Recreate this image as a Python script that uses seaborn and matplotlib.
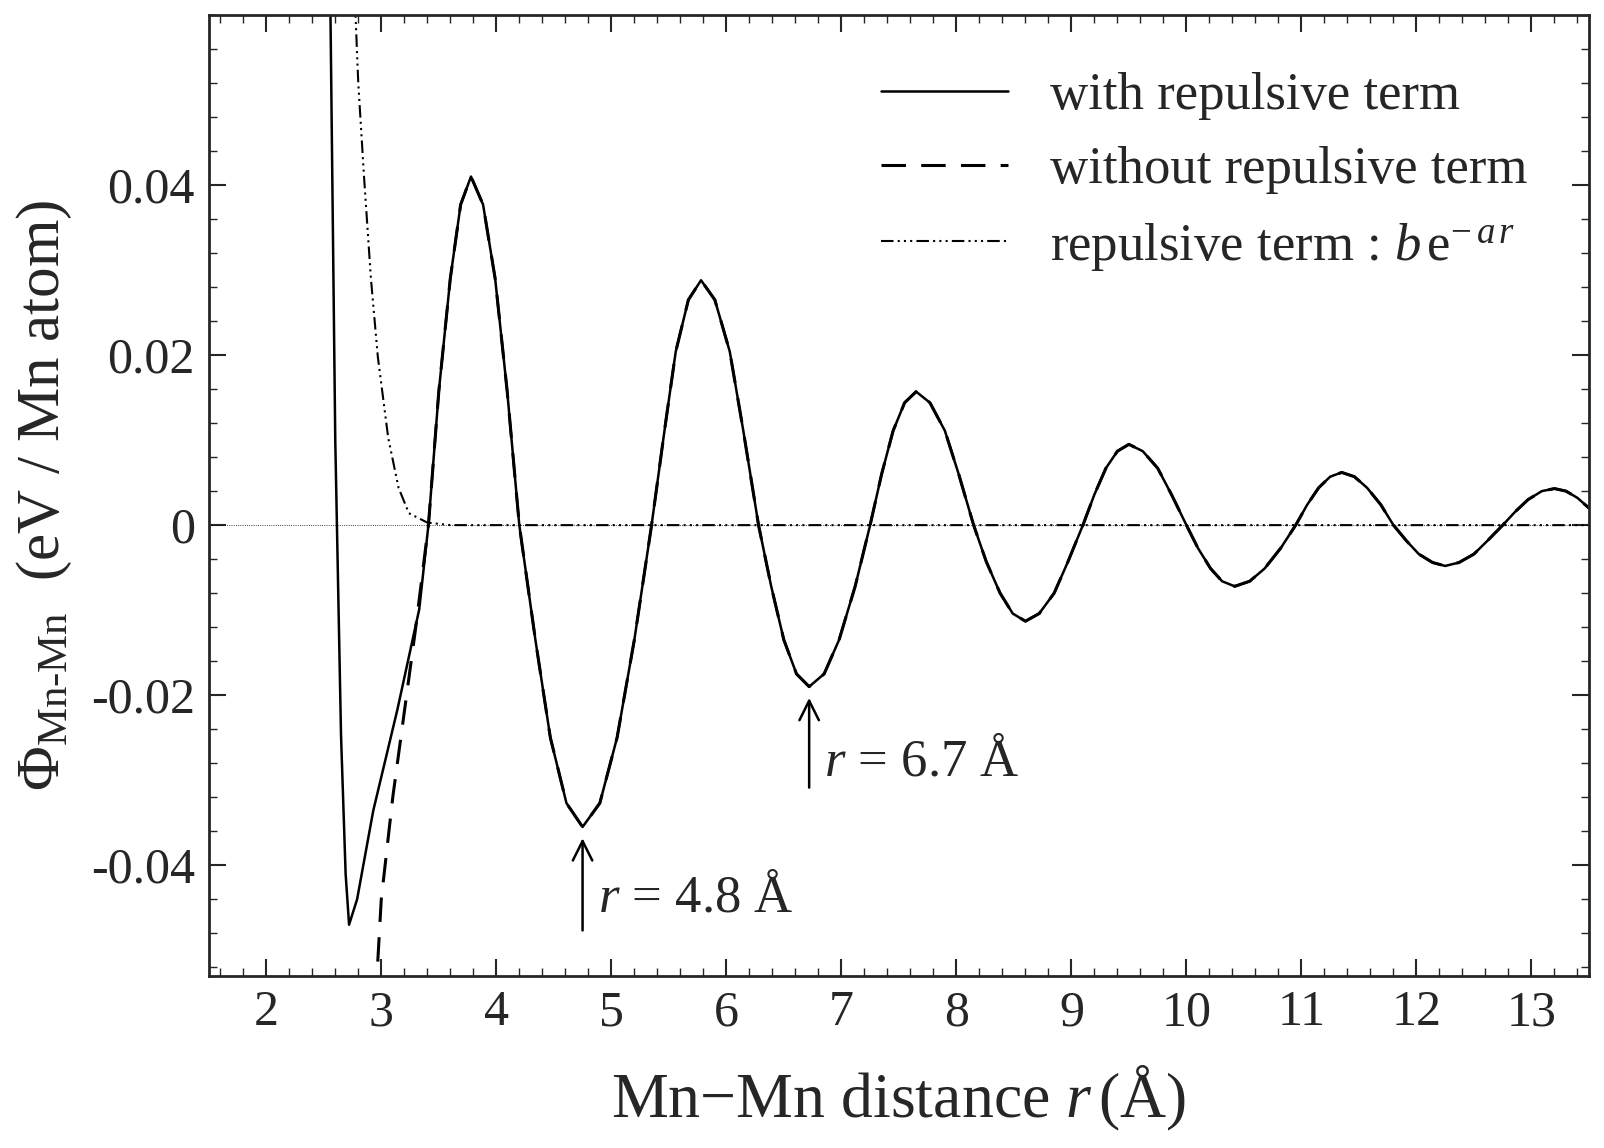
import numpy as np
import pandas as pd
import seaborn as sns
import matplotlib.pyplot as plt
from matplotlib.ticker import MultipleLocator

sns.set_style('ticks')
plt.rcParams['font.family'] = ['Liberation Serif', 'DejaVu Serif']
plt.rcParams['mathtext.fontset'] = 'custom'
plt.rcParams['mathtext.rm'] = 'Liberation Serif'
plt.rcParams['mathtext.it'] = 'Liberation Serif:italic'

# oscillating part shared by both curves (r >= 3.41)
r_osc = [3.41, 3.50, 3.60, 3.69, 3.78, 3.885, 3.99, 4.095, 4.2,
         4.34, 4.47, 4.61, 4.75, 4.9, 5.05, 5.2, 5.35,
         5.46, 5.56, 5.67, 5.78, 5.9, 6.03, 6.15, 6.28,
         6.39, 6.5, 6.61, 6.72, 6.85, 6.98, 7.12, 7.25,
         7.35, 7.45, 7.55, 7.65, 7.77, 7.9, 8.02, 8.15,
         8.26, 8.38, 8.49, 8.6, 8.72, 8.85, 8.97, 9.1,
         9.2, 9.3, 9.4, 9.5, 9.62, 9.75, 9.87, 10.0,
         10.1, 10.21, 10.31, 10.42, 10.55, 10.68, 10.82, 10.95,
         11.05, 11.15, 11.25, 11.35, 11.46, 11.57, 11.69, 11.8,
         11.91, 12.02, 12.14, 12.25, 12.37, 12.5, 12.62, 12.75,
         12.86, 12.97, 13.09, 13.2, 13.3, 13.4, 13.5]
phi_osc = [0.0, 0.0157, 0.029, 0.0377, 0.041, 0.0377, 0.029, 0.0157, 0.0,
           -0.0135, -0.025, -0.0327, -0.0355, -0.0327, -0.025, -0.0135, 0.0,
           0.0109, 0.0204, 0.0265, 0.0288, 0.0265, 0.0204, 0.0109, 0.0,
           -0.0072, -0.0135, -0.0175, -0.019, -0.0175, -0.0135, -0.0072, 0.0,
           0.006, 0.0111, 0.0144, 0.0157, 0.0144, 0.0111, 0.006, 0.0,
           -0.0043, -0.008, -0.0104, -0.0113, -0.0104, -0.008, -0.0043, 0.0,
           0.0036, 0.0067, 0.0087, 0.0095, 0.0087, 0.0067, 0.0036, 0.0,
           -0.0027, -0.0051, -0.0066, -0.0072, -0.0066, -0.0051, -0.0027, 0.0,
           0.0024, 0.0044, 0.0057, 0.0062, 0.0057, 0.0044, 0.0024, 0.0,
           -0.0018, -0.0034, -0.0044, -0.0048, -0.0044, -0.0034, -0.0018, 0.0,
           0.0016, 0.003, 0.004, 0.0043, 0.004, 0.0032, 0.002]

r_with_short = [2.55, 2.6, 2.65, 2.69, 2.72, 2.79, 2.93, 3.14, 3.33]
phi_with_short = [0.07, 0.01, -0.0247, -0.041, -0.047, -0.044, -0.0336, -0.0217, -0.0099]

r_without_short = [2.95, 3.0, 3.1, 3.2, 3.3]
phi_without_short = [-0.056, -0.044, -0.032, -0.022, -0.012]

r_rep = [2.77, 2.8, 2.85, 2.91, 2.97, 3.06, 3.15, 3.24, 3.4, 3.6, 13.5]
phi_rep = [0.062, 0.052, 0.041, 0.029, 0.0198, 0.0103, 0.0044, 0.0014, 0.0003, 0.0, 0.0]

with_df = pd.DataFrame({'r': r_with_short + r_osc, 'phi': phi_with_short + phi_osc})
without_df = pd.DataFrame({'r': r_without_short + r_osc, 'phi': phi_without_short + phi_osc})
rep_df = pd.DataFrame({'r': r_rep, 'phi': phi_rep})

fig, ax = plt.subplots(figsize=(16.04, 11.48), dpi=100)
ax.axhline(0, color='k', lw=0.6, ls=':')
sns.lineplot(data=with_df, x='r', y='phi', ax=ax, color='k', lw=1.8, sort=False,
             label='with repulsive term')
sns.lineplot(data=without_df, x='r', y='phi', ax=ax, color='k', lw=2.2, sort=False,
             label='without repulsive term')
ax.lines[-1].set_dashes([8, 5])
sns.lineplot(data=rep_df, x='r', y='phi', ax=ax, color='k', lw=1.5, sort=False,
             label=r'repulsive term : $b\,\mathrm{e}^{-\,a\,r}$')
ax.lines[-1].set_dashes([6, 2, 1, 2, 1, 2, 1, 2])

ax.set_xlim(1.5, 13.5)
ax.set_ylim(-0.053, 0.06)
ax.set_xticks(range(2, 14))
ax.set_yticks([-0.04, -0.02, 0, 0.02, 0.04], ['-0.04', '-0.02', '0', '0.02', '0.04'])
ax.xaxis.set_minor_locator(MultipleLocator(0.2))
ax.yaxis.set_minor_locator(MultipleLocator(0.004))
ax.tick_params(which='both', direction='in', top=True, right=True, labelsize=36)
ax.tick_params(which='major', length=12, width=1.5, pad=10)
ax.tick_params(which='minor', length=6, width=1)
for s in ax.spines.values():
    s.set_linewidth(2)

ax.set_xlabel(r'Mn$-$Mn distance $r\,$(Å)', fontsize=46, labelpad=20)
ax.set_ylabel(r'$\Phi_{\mathrm{Mn\text{-}Mn}}$  (eV / Mn atom)', fontsize=44, labelpad=12)

ax.annotate('', xy=(4.75, -0.0365), xytext=(4.75, -0.048),
            arrowprops=dict(arrowstyle='->', color='k', lw=1.8, mutation_scale=35))
ax.text(4.88, -0.0455, r'$r$ = 4.8 Å', fontsize=38)
ax.annotate('', xy=(6.72, -0.0200), xytext=(6.72, -0.0312),
            arrowprops=dict(arrowstyle='->', color='k', lw=1.8, mutation_scale=35))
ax.text(6.85, -0.0295, r'$r$ = 6.7 Å', fontsize=38)

ax.legend(loc='upper right', fontsize=38, frameon=False, handlelength=2.4,
          bbox_to_anchor=(0.99, 0.99))
fig.tight_layout()
fig.savefig('out.png', dpi=100)
